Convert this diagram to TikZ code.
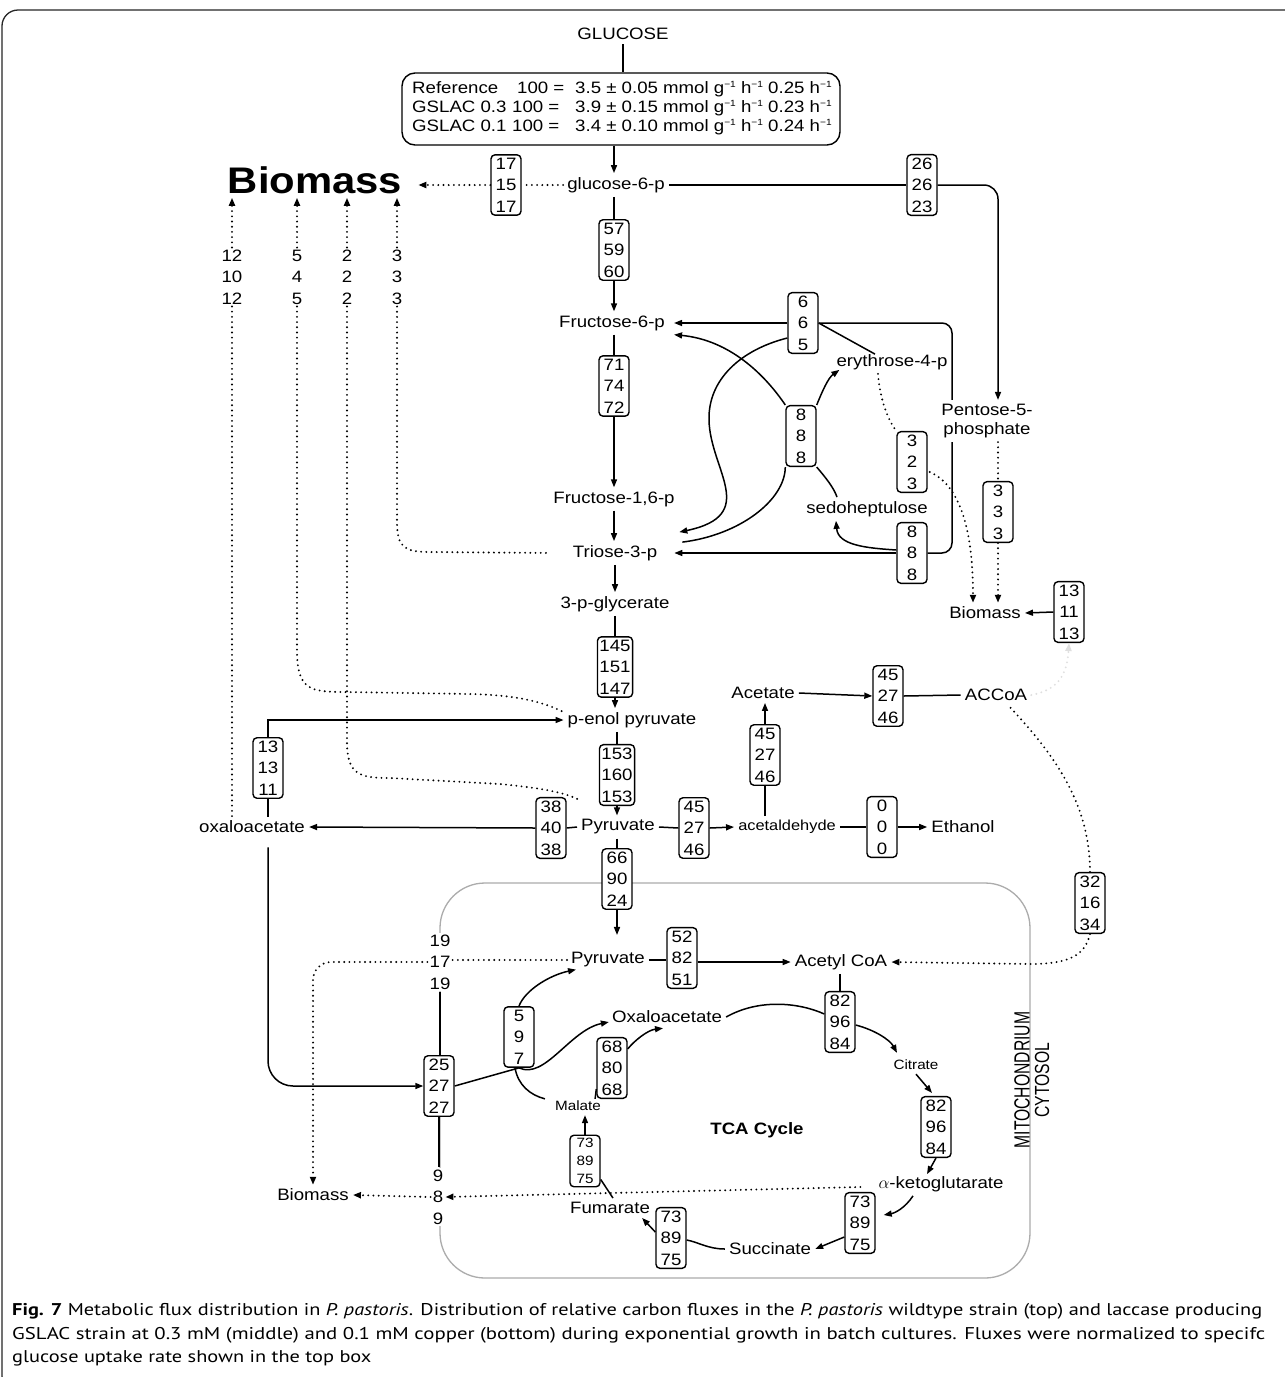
\documentclass[tikz,border=0pt]{standalone}
\usepackage{fontspec}
\usepackage{graphicx}
\setmainfont{Liberation Sans}[FakeStretch=1.13]
\newfontfamily\plainsans{Liberation Sans}
\newfontfamily\capfont{PT Sans}
\usetikzlibrary{arrows.meta,calc}
\newcommand\fLab{\fontsize{16.5}{19}\selectfont}
\newcommand\fNum{\fontsize{16.5}{21.5}\selectfont}
\newcommand\fSm{\fontsize{13.5}{18}\selectfont}
\newcommand\fAc{\fontsize{14.5}{17}\selectfont}
\newcommand\fBig{\fontsize{37}{40}\selectfont\bfseries}
\newcommand\fCap{\fontsize{17}{20}\selectfont}
\newcommand\mysup[1]{\raisebox{0.62ex}{\fontsize{9}{9}\selectfont #1}}
\newlength\capw
\newcommand\capA{\textbf{Fig. 7} Metabolic flux distribution in \textit{P. pastoris}. Distribution of relative carbon fluxes in the \textit{P. pastoris} wildtype strain (top) and laccase producing}
\newcommand\capB{GSLAC strain at 0.3 mM (middle) and 0.1 mM copper (bottom) during exponential growth in batch cultures. Fluxes were normalized to specifc}
\newcommand\capC{glucose uptake rate shown in the top box}
\begin{document}
\settowidth{\capw}{\capfont\fCap\capA}%
\pgfmathsetmacro\capfac{1250/\capw}%
\begin{tikzpicture}[x=1pt,y=-1pt,
 ln/.style={line width=1.5pt},
 ar/.style={ln,-{Triangle[length=8pt,width=6pt]}},
 dl/.style={line width=2.1pt,dash pattern=on 0pt off 5.2pt,line cap=round},
 da/.style={dl,-{Triangle[length=8pt,width=6pt]}},
 fx/.style={draw,line width=1.4pt,rounded corners=4pt,align=center,inner xsep=2pt,inner ysep=3pt,minimum width=30pt,font=\fNum,fill=white},
 st/.style={align=center,inner sep=2pt,font=\fNum,fill=white},
 lb/.style={inner sep=4pt,font=\fLab},
 mito/.style={draw=gray!65,line width=1.3pt,rounded corners=45pt}]
\useasboundingbox (0,0) rectangle (1285,1377);
\fill[white] (0,0) rectangle (1285,1377);
\draw[line width=1.3pt,rounded corners=16pt,black!85] (2,10) rectangle (1330,1392);

% mitochondrion
\draw[mito] (440,883) rectangle (1030,1278);

% top
\node[lb] (glc) at (623,34) {GLUCOSE};
\node[draw,line width=1.4pt,rounded corners=13pt,minimum width=438pt,minimum height=72pt,inner sep=0pt] (topbox) at (621,109) {};
\node[anchor=base west,inner sep=0pt,font=\fLab] (ra) at (412,93) {Reference};
\node[anchor=base west,inner sep=0pt,font=\fLab] (rb) at (412,112) {GSLAC 0.3};
\node[anchor=base west,inner sep=0pt,font=\fLab] (rc) at (412,131) {GSLAC 0.1};
\node[anchor=base west,inner sep=0pt,font=\fLab] (ha) at (517,93) {100 =};
\node[anchor=base west,inner sep=0pt,font=\fLab] (hb) at (512,112) {100 =};
\node[anchor=base west,inner sep=0pt,font=\fLab] (hc) at (512,131) {100 =};
\node[anchor=base west,inner sep=0pt,font=\fLab] (va) at (575,93) {3.5 ± 0.05 mmol g\mysup{−1} h\mysup{−1} 0.25 h\mysup{−1}};
\node[anchor=base west,inner sep=0pt,font=\fLab] (vb) at (575,112) {3.9 ± 0.15 mmol g\mysup{−1} h\mysup{−1} 0.23 h\mysup{−1}};
\node[anchor=base west,inner sep=0pt,font=\fLab] (vc) at (575,131) {3.4 ± 0.10 mmol g\mysup{−1} h\mysup{−1} 0.24 h\mysup{−1}};

% main axis
\node[lb] (g6p) at (616,185) {glucose-6-p};
\node[fx] (b57) at (614,250) {57\\59\\60};
\node[lb] (f6p) at (612,323) {Fructose-6-p};
\node[fx] (b71) at (614,386) {71\\74\\72};
\node[lb] (f16p) at (614,499) {Fructose-1,6-p};
\node[lb] (t3p) at (615,553) {Triose-3-p};
\node[lb] (pg) at (615,604) {3-p-glycerate};
\node[fx] (b145) at (615,667) {145\\151\\147};
\node[lb] (pep) at (632,720) {p-enol pyruvate};
\node[fx] (b153) at (617,775) {153\\160\\153};
\node[lb] (pyr) at (618,827) {Pyruvate};
\node[fx] (b66) at (617,879) {66\\90\\24};
\node[lb] (mpyr) at (608,960) {Pyruvate};

\draw[ln] (glc.south) -- (glc.south |- topbox.north);
\draw[ar] (topbox.south -| b57) -- (b57 |- g6p.north);
\draw[ln] (b57 |- g6p.south) -- (b57.north);
\draw[ar] (b57.south) -- (b57 |- f6p.north);
\draw[ln] (b71 |- f6p.south) -- (b71.north);
\draw[ar] (b71.south) -- (b71 |- f16p.north);
\draw[ar] (b71 |- f16p.south) -- (b71 |- t3p.north);
\draw[ar] (b145 |- t3p.south) -- (b145 |- pg.north);
\draw[ln] (b145 |- pg.south) -- (b145.north);
\draw[ar] (b145.south) -- (b145 |- pep.north);
\draw[ln] (b153 |- pep.south) -- (b153.north);
\draw[ar] (b153.south) -- (b153 |- pyr.north);
\draw[ln] (b66 |- pyr.south) -- (b66.north);
\coordinate (m66) at ($(b66.south)+(0,25)$);
\draw[ar] (b66.south) -- (m66);

% biomass top-left
\node[font=\fBig,inner sep=4pt] (bio) at (315,180) {Biomass};
\node[fx] (b17) at (506,185) {17\\15\\17};
\node[st] (n12) at (232,277) {12\\10\\12};
\node[st] (n5) at (297,277) {5\\4\\5};
\node[st] (n2) at (347,277) {2\\2\\2};
\node[st] (n3) at (397,277) {3\\3\\3};
\draw[dl] (g6p.west) -- (b17.east);
\draw[da] (b17.west) -- ($(bio.east |- b17.west)+(12,0)$);
\draw[da] (n12.north) -- (n12.north |- bio.south);
\draw[da] (n5.north) -- (n5.north |- bio.south);
\draw[da] (n2.north) -- (n2.north |- bio.south);
\draw[da] (n3.north) -- (n3.north |- bio.south);

% PPP
\node[fx] (b26) at (922,185) {26\\26\\23};
\node[fx] (b665) at (803,323) {6\\6\\5};
\node[lb] (ery) at (892,362) {erythrose-4-p};
\node[lb,align=center] (ppp) at (987,421) {Pentose-5-\\phosphate};
\node[fx] (b888m) at (801,436) {8\\8\\8};
\node[fx] (b323) at (912,462) {3\\2\\3};
\node[fx] (b333) at (998,512) {3\\3\\3};
\node[lb] (sedo) at (867,509) {sedoheptulose};
\node[fx] (b888l) at (912,553) {8\\8\\8};
\node[lb] (bios) at (985,613) {Biomass};
\node[fx] (b1311) at (1069,612) {13\\11\\13};
\coordinate (xr) at (952,0);

\draw[ln] (g6p.east) -- (b26.west);
\draw[ar,rounded corners=14pt] (b26.east) -- (b26.east -| b333) -- (b333 |- ppp.north);
\draw[ar] (b665.west) -- ([xshift=5pt]f6p.east);
\draw[ln,rounded corners=10pt] (b665.east) -- (b665.east -| xr) -- (xr |- ppp.north);
\draw[ln,rounded corners=10pt] (xr |- ppp.south) -- (xr |- b888l.east) -- (b888l.east);
\draw[ln] (b665.east) -- ($(ery.north)+(-17,4)$);
\draw[ar] ($(b665.west)+(0,15)$) .. controls (740,350) and (708,380) .. (709,420) .. controls (710,470) and (760,515) .. ($(t3p.north east)+(18,-9)$);
\draw[ar] (b888m.north west) .. controls (765,375) and (730,340) .. ($(f6p.south east)+(5,0)$);
\draw[ar] (b888m.north east) .. controls (822,392) and (828,378) .. ($(ery.south west)+(7,-4)$);
\draw[ln] (b888m.south west) .. controls (785,500) and (740,535) .. ($(t3p.north east)+(21,1)$);
\draw[ln] (b888m.south east) .. controls (826,478) and (834,488) .. ($(sedo.north)+(-30,0)$);
\draw[ar] (b888l.west) -- ([xshift=13pt]t3p.east);
\draw[ar] ($(b888l.west)+(0,-3)$) .. controls (865,548) and (838,545) .. ($(sedo.south)+(-31,0)$);
\draw[dl] ($(ery.south)+(-14,0)$) .. controls (880,400) and (888,420) .. (b323.north west);
\draw[da] ($(b323.east)+(2,10)$) .. controls (960,485) and (973,530) .. ($(bios.north)+(-12,0)$);
\draw[dl] (b333 |- ppp.south) -- (b333.north);
\draw[da] (b333.south) -- (b333.south |- bios.north);
\draw[ar] (b1311.west) -- (bios.east);

% acetate branch
\node[lb] (ace) at (763,693) {Acetate};
\node[fx] (b45h) at (888,696) {45\\27\\46};
\node[lb] (accoa) at (996,695) {ACCoA};
\node[fx] (b45v) at (765,755) {45\\27\\46};
\node[lb,font=\fAc] (acet) at (787,827) {acetaldehyde};
\node[fx] (b45p) at (694,828) {45\\27\\46};
\node[fx] (b000) at (882,827) {0\\0\\0};
\node[lb] (eth) at (963,827) {Ethanol};
\node[fx] (b38) at (551,828) {38\\40\\38};
\node[lb] (oxa) at (252,827) {oxaloacetate};
\node[fx] (b13) at (268,768) {13\\13\\11};

\draw[da,gray!25] (accoa.east) .. controls (1058,690) and (1067,675) .. (b1311.south);
\draw[ar] (ace.east) -- (b45h.west);
\draw[ln] (b45h.east) -- (accoa.west);
\draw[ar] (b45v.north) -- (b45v.north |- ace.south);
\draw[ln] (b45v.south |- acet.north) -- (b45v.south);
\draw[ln] (pyr.east) -- (b45p.west);
\draw[ar] (b45p.east) -- (acet.west);
\draw[ln] (acet.east) -- (b000.west);
\draw[ar] (b000.east) -- (eth.west);
\draw[ln] (pyr.west) -- (b38.east);
\draw[ar] (b38.west) -- (oxa.east);
\draw[ar] (b13.north) -- (b13.north |- pep.west) -- (pep.west);
\draw[ln] (b13.south |- oxa.north) -- (b13.south);

% dotted biomass lines
\draw[dl] (n12.south) -- (n12.south |- oxa.north);
\draw[dl] (n5.south) -- (297,650) .. controls (297,690) and (310,692) .. (345,692) -- (470,694) .. controls (520,695) and (545,703) .. ($(pep.west)+(0,-8)$);
\draw[dl] (n2.south) -- (347,742) .. controls (347,775) and (360,778) .. (390,778) -- (500,784) .. controls (540,788) and (565,792) .. ($(pyr.north west)+(3,-15)$);
\draw[dl] (n3.south) -- (397,522) .. controls (397,548) and (405,552) .. (430,552) -- ($(t3p.west)+(-18,0)$);

% mitochondrion contents
\node[st] (n19) at (440,962) {19\\17\\19};
\node[st] (n9) at (438,1197) {9\\8\\9};
\node[fx] (b25) at (439,1086) {25\\27\\27};
\node[lb] (bbot) at (313,1195) {Biomass};
\node[fx] (b52) at (682,958) {52\\82\\51};
\node[lb] (acoa) at (841,962) {Acetyl CoA};
\node[fx] (b32) at (1090,903) {32\\16\\34};
\node[fx] (b82a) at (840,1022) {82\\96\\84};
\node[lb] (moxa) at (667,1017) {Oxaloacetate};
\node[lb,font=\fSm] (cit) at (916,1065) {Citrate};
\node[fx] (b82b) at (936,1127) {82\\96\\84};
\node[lb] (akg) at (941,1184) {$\alpha$-ketoglutarate};
\node[fx] (b73r) at (860,1223) {73\\89\\75};
\node[lb] (succ) at (770,1249) {Succinate};
\node[fx] (b73b) at (671,1238) {73\\89\\75};
\node[lb] (fum) at (610,1208) {Fumarate};
\node[fx,font=\fSm] (b73u) at (585,1161) {73\\89\\75};
\node[lb,font=\fSm] (mal) at (578,1106) {Malate};
\node[fx] (b597) at (519,1037) {5\\9\\7};
\node[fx] (b68) at (612,1068) {68\\80\\68};
\node[font=\fLab\bfseries] (tca) at (757,1130) {TCA Cycle};
\node[rotate=90,inner sep=0pt,font=\plainsans\fontsize{15.7}{18}\selectfont] (mitolab) at (1022,1080) {\scalebox{1}[1.4]{MITOCHONDRIUM}};
\node[rotate=90,inner sep=0pt,font=\plainsans\fontsize{15.7}{18}\selectfont] (cytolab) at (1042,1080) {\scalebox{1}[1.3]{CYTOSOL}};

\draw[ar,rounded corners=25pt] ($(b13.south |- oxa.south)+(0,10)$) -- (b13.south |- b25.west) -- (b25.west);
\draw[ln] (n19.south) -- (n19.south |- b25.north);
\draw[ln] (b25.south) -- (b25.south |- n9.north);
\draw[dl] (mpyr.west) -- (mpyr.west -| n19.east);
\draw[da,rounded corners=18pt] (n19.west) -- (n19.west -| bbot.north) -- (bbot.north);
\draw[da] ($(akg.west)+(-14,3)$) -- (n9.east);
\draw[da] (n9.west) -- (bbot.east);

\draw[ln] (mpyr.east) -- (mpyr.east -| b52.west);
\draw[ar] (b52.east |- acoa.west) -- (acoa.west);
\draw[dl] (b32.north) .. controls (1090,800) and (1050,750) .. ($(accoa.south)+(12,0)$);
\draw[da] (b32.south) .. controls (1085,955) and (1070,964) .. (1030,964) -- (acoa.east);
\draw[ln] (acoa.south -| b82a) -- (b82a.north);
\draw[ln] (moxa.east) .. controls (760,998) and (800,1003) .. ($(b82a.west)+(0,-8)$);
\draw[ar] ($(b82a.east)+(0,3)$) .. controls (875,1030) and (890,1040) .. ($(cit.north)+(-19,-3)$);
\draw[ar] (cit.south) -- ($(b82b.north)+(-4,-3)$);
\draw[ar] (b82b.south) -- ($(akg.north)+(-14,2)$);
\draw[ar] ($(akg.south)+(-28,0)$) .. controls (905,1208) and (895,1213) .. ($(b73r.east)+(8,-8)$);
\draw[ar] ($(b73r.west)+(0,14)$) -- (succ.east);
\draw[ln] (succ.west) .. controls (708,1249) and (698,1242) .. ($(b73b.east)+(0,2)$);
\draw[ar] ($(b73b.west)+(0,-6)$) -- ($(fum.south east)+(-12,0)$);
\draw[ln] ($(b73u.south east)+(0,-8)$) -- ($(fum.north)+(3,0)$);
\draw[ar] (b73u.north) -- (b73u.north |- mal.south);
\draw[ln] (b25.east) -- (b597.south);
\draw[ar] (b597.north) .. controls (525,990) and (550,975) .. ($(mpyr.south west)+(9,-2)$);
\draw[ar] (b597.south) .. controls (545,1080) and (570,1030) .. ($(moxa.west)+(1,5)$);
\draw[ln] ($(b597.south)+(-4,0)$) .. controls (518,1085) and (530,1095) .. ($(mal.north west)+(-6,2)$);
\draw[ln] ($(mal.north east)+(-10,2)$) -- ($(b68.south west)+(0,-10)$);
\draw[ar] ($(b68.north east)+(0,12)$) .. controls (635,1040) and (648,1030) .. ($(moxa.south)+(-4,1)$);

% caption
\node[anchor=west,inner sep=0pt] (capa) at (12,1311) {\resizebox{1250pt}{\height}{\capfont\fCap\capA}};
\node[anchor=west,inner sep=0pt] (capb) at (12,1335) {\resizebox{1253pt}{\height}{\capfont\fCap\capB}};
\node[anchor=west,inner sep=0pt] (capc) at (12,1358) {\scalebox{\capfac}[1]{\capfont\fCap\capC}};
\end{tikzpicture}
\end{document}
